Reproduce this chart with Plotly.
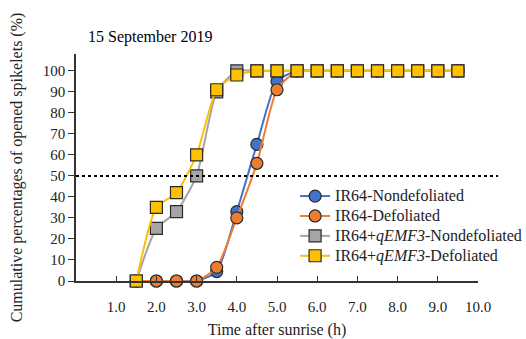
import plotly.graph_objects as go

times = [1.5, 2.0, 2.5, 3.0, 3.5, 4.0, 4.5, 5.0, 5.5, 6.0, 6.5, 7.0, 7.5, 8.0, 8.5, 9.0, 9.5]
ir64_nondef = [0, 0, 0, 0, 4.5, 33, 65, 95, 100, 100, 100, 100, 100, 100, 100, 100, 100]
ir64_def = [0, 0, 0, 0, 6.5, 30, 56, 91, 100, 100, 100, 100, 100, 100, 100, 100, 100]
qemf3_nondef = [0, 25, 33, 50, 90, 100, 100, 100, 100, 100, 100, 100, 100, 100, 100, 100, 100]
qemf3_def = [0, 35, 42, 60, 91, 98, 100, 100, 100, 100, 100, 100, 100, 100, 100, 100, 100]

x_ticks = [1, 2, 3, 4, 5, 6, 7, 8, 9, 10]
x_ticktext = ["1.0", "2.0", "3.0", "4.0", "5.0", "6.0", "7.0", "8.0", "9.0", "10.0"]
y_ticks = [0, 10, 20, 30, 40, 50, 60, 70, 80, 90, 100]

FONT = "Liberation Serif"
series = [
    ("IR64-Nondefoliated", ir64_nondef, "#4472C4", "circle", 12),
    ("IR64-Defoliated", ir64_def, "#ED7D31", "circle", 12),
    ("IR64+<i>qEMF3</i>-Nondefoliated", qemf3_nondef, "#A5A5A5", "square", 12),
    ("IR64+<i>qEMF3</i>-Defoliated", qemf3_def, "#FFC000", "square", 12),
]

fig = go.Figure()
for name, ys, color, sym, size in series:
    fig.add_trace(go.Scatter(
        x=times, y=ys, name="<span style='font-size:16px'>" + name + "</span>",
        mode="lines+markers",
        line=dict(color=color, width=2, shape="spline", smoothing=0.6),
        marker=dict(symbol=sym, size=size, color=color,
                    line=dict(color="#2b2b2b", width=1.2)),
        cliponaxis=False,
    ))

fig.add_shape(type="line", xref="paper", yref="y", x0=0, x1=1.05, y0=50, y1=50,
              line=dict(color="black", width=2, dash="dot"))

fig.add_annotation(text="15 September 2019", xref="paper", yref="paper",
                   x=0.025, y=1.075, xanchor="left", yanchor="middle", showarrow=False,
                   font=dict(family=FONT, size=16, color="black"))

fig.update_layout(
    width=526, height=339,
    margin=dict(l=76, r=48, t=54, b=58, autoexpand=False),
    paper_bgcolor="white", plot_bgcolor="white",
    font=dict(family=FONT, size=15, color="#222"),
    showlegend=True,
    legend=dict(x=0.545, y=0.44, xanchor="left", yanchor="top",
                bgcolor="rgba(255,255,255,0)", font=dict(family=FONT, size=13, color="#222"),
                tracegroupgap=0, itemwidth=30),
    xaxis=dict(range=[0, 10], tickvals=x_ticks, ticktext=x_ticktext, automargin=False,
               ticks="inside", ticklen=5, tickcolor="#333", showgrid=False, zeroline=False,
               showline=True, linecolor="#333", linewidth=1.5,
               ticklabelstandoff=11, tickfont=dict(family=FONT, size=15, color="#222"),
               title=dict(text="Time after sunrise (h)", font=dict(family=FONT, size=16, color="#222"),
                          standoff=16)),
    yaxis=dict(range=[0, 108], tickvals=y_ticks, ticks="outside", ticklen=6, tickcolor="#333",
               automargin=False, tickfont=dict(family=FONT, size=15, color="#222"),
               showgrid=False, zeroline=False, showline=True, linecolor="#333", linewidth=1.5,
               title=dict(text="Cumulative percentages of opened spikelets (%)",
                          font=dict(family=FONT, size=16, color="#222"), standoff=16)),
)

fig.write_html("out.html", config={"displayModeBar": False},
               post_script="document.body.style.margin='0px';")
